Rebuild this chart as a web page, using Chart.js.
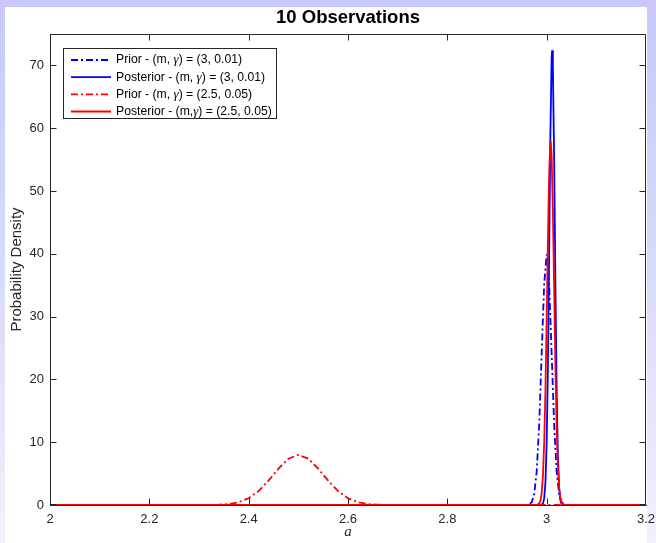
<!DOCTYPE html>
<html><head><meta charset="utf-8">
<script src="https://cdn.jsdelivr.net/npm/chart.js@4.4.0/dist/chart.umd.min.js"></script>
<style>
html,body{margin:0;padding:0;width:656px;height:543px;overflow:hidden;}
body{background:linear-gradient(to bottom,#c8c8fa 0%,#dadafb 50%,#f1f1fd 100%);position:relative;}
#panel{position:absolute;left:5px;top:7px;width:642px;height:536px;background:#fff;}
#c{position:absolute;left:0;top:0;}
</style></head><body>
<div id="panel"></div>
<canvas id="c" width="656" height="543"></canvas>
<script>
const chartTitle = "10 Observations";
const xAxisTitle = "a";
const yAxisTitle = "Probability Density";
const xTicks = [2, 2.2, 2.4, 2.6, 2.8, 3, 3.2];
const yTicks = [0, 10, 20, 30, 40, 50, 60, 70];
const legendPrefix = ["Prior - (m, ", "Posterior - (m, ", "Prior - (m, ", "Posterior - (m,"];
const legendSymbol = "\u03B3";
const legendSuffix = [") = (3, 0.01)", ") = (3, 0.01)", ") = (2.5, 0.05)", ") = (2.5, 0.05)"];

// Prior (m, gamma) = (3, 0.01)
const xPriorBlue = [2, 2.95, 2.96, 2.965, 2.97, 2.975, 2.98, 2.985, 2.99, 2.995, 3.0, 3.005, 3.01, 3.015, 3.02, 3.025, 3.03, 3.035, 3.04, 3.05, 3.2];
const yPriorBlue = [0, 0, 0.01, 0.09, 0.44, 1.75, 5.4, 12.95, 24.2, 35.2, 39.9, 35.2, 24.2, 12.95, 5.4, 1.75, 0.44, 0.09, 0.01, 0, 0];
// Posterior (m, gamma) = (3, 0.01)
const xPostBlue = [2, 2.985, 2.99, 2.9925, 2.995, 2.9975, 3.0, 3.0025, 3.005, 3.0075, 3.01, 3.011, 3.0125, 3.015, 3.0175, 3.02, 3.0225, 3.025, 3.0275, 3.03, 3.035, 3.2];
const yPostBlue = [0, 0, 0.05, 0.25, 1.05, 3.56, 9.8, 21.9, 39.9, 59.1, 71.2, 72.4, 69.8, 55.6, 36.0, 19.0, 8.14, 2.84, 0.8, 0.19, 0, 0];
// Prior (m, gamma) = (2.5, 0.05)
const xPriorRed = [2, 2.28, 2.3, 2.32, 2.34, 2.36, 2.38, 2.4, 2.42, 2.44, 2.46, 2.48, 2.5, 2.52, 2.54, 2.56, 2.58, 2.6, 2.62, 2.64, 2.66, 2.68, 2.7, 2.72, 3.2];
const yPriorRed = [0, 0, 0.003, 0.012, 0.048, 0.158, 0.448, 1.08, 2.22, 3.88, 5.79, 7.37, 7.98, 7.37, 5.79, 3.88, 2.22, 1.08, 0.448, 0.158, 0.048, 0.012, 0.003, 0, 0];
// Posterior (m, gamma) = (2.5, 0.05)
const xPostRed = [2, 2.98, 2.985, 2.9875, 2.99, 2.9925, 2.995, 2.9975, 3.0, 3.0025, 3.005, 3.0075, 3.008, 3.01, 3.0125, 3.015, 3.0175, 3.02, 3.0225, 3.025, 3.0275, 3.03, 3.035, 3.04, 3.2];
const yPostRed = [0, 0, 0.22, 0.7, 1.93, 4.65, 9.83, 18.2, 29.6, 42.2, 52.8, 57.8, 58.0, 55.6, 46.9, 34.7, 22.5, 12.8, 6.38, 2.79, 1.07, 0.36, 0.03, 0, 0];

const toPts = (xs, ys) => xs.map((x, i) => ({x: x, y: ys[i]}));
const BLUE = '#0000ff', RED = '#ff0000', AX = '#262626';
const DASHDOT = [7, 3, 2, 3];

const datasets = [
  {label: 'prior1', data: toPts(xPriorBlue, yPriorBlue), borderColor: BLUE, borderDash: DASHDOT, order: 4},
  {label: 'post1', data: toPts(xPostBlue, yPostBlue), borderColor: BLUE, borderDash: [], order: 3},
  {label: 'prior2', data: toPts(xPriorRed, yPriorRed), borderColor: RED, borderDash: DASHDOT, order: 2},
  {label: 'post2', data: toPts(xPostRed, yPostRed), borderColor: RED, borderDash: [], order: 1}
];
datasets.forEach(d => { d.borderWidth = 1.8; d.pointRadius = 0; d.tension = 0; d.fill = false; });

const SANS = '"Liberation Sans", Arial, Helvetica, sans-serif';

const decor = {
  id: 'decor',
  afterDatasetsDraw(chart) {
    const ctx = chart.ctx, a = chart.chartArea;
    const xs = chart.scales.x, ys = chart.scales.y;
    const L = Math.round(a.left) + 0.5, R = Math.round(a.right) - 0.5;
    const T = Math.round(a.top) + 0.5, B = Math.round(a.bottom) - 0.5;
    ctx.save();
    ctx.strokeStyle = AX; ctx.lineWidth = 1; ctx.setLineDash([]);
    ctx.beginPath();
    ctx.moveTo(L, T); ctx.lineTo(R, T); ctx.lineTo(R, B);
    ctx.moveTo(L, T); ctx.lineTo(L, B);
    ctx.stroke();
    const tl = 6;
    const clamp = (v, lo, hi) => Math.min(Math.max(v, lo), hi);
    ctx.beginPath();
    xTicks.forEach(v => {
      const px = clamp(Math.round(xs.getPixelForValue(v)) + 0.5, L, R);
      ctx.moveTo(px, B); ctx.lineTo(px, B - tl);
      ctx.moveTo(px, T); ctx.lineTo(px, T + tl);
    });
    yTicks.forEach(v => {
      const py = clamp(Math.round(ys.getPixelForValue(v)) + 0.5, T, B);
      ctx.moveTo(L, py); ctx.lineTo(L + tl, py);
      ctx.moveTo(R, py); ctx.lineTo(R - tl, py);
    });
    ctx.stroke();

    // legend
    const bx = 63.5, by = 48.5, bw = 213, bh = 70;
    ctx.fillStyle = '#fff';
    ctx.fillRect(bx, by, bw, bh);
    ctx.strokeStyle = AX;
    ctx.strokeRect(bx, by, bw, bh);
    const rowY = [60, 77.2, 94.4, 111.5];
    datasets.forEach((d, i) => {
      const y = rowY[i];
      ctx.strokeStyle = d.borderColor; ctx.lineWidth = 1.8;
      ctx.setLineDash(d.borderDash);
      ctx.beginPath(); ctx.moveTo(71, y); ctx.lineTo(111, y); ctx.stroke();
      ctx.setLineDash([]);
      ctx.fillStyle = '#000';
      ctx.textBaseline = 'middle'; ctx.textAlign = 'left';
      let x = 116;
      ctx.font = '12.2px ' + SANS;
      ctx.fillText(legendPrefix[i], x, y);
      x += ctx.measureText(legendPrefix[i]).width;
      ctx.font = 'italic 13px "Liberation Serif", "DejaVu Serif", serif';
      ctx.fillText(legendSymbol, x, y);
      x += ctx.measureText(legendSymbol).width;
      ctx.font = '12.2px ' + SANS;
      ctx.fillText(legendSuffix[i], x, y);
    });

    // title
    const cx = (a.left + a.right) / 2;
    ctx.fillStyle = '#000';
    ctx.font = 'bold 18.5px ' + SANS;
    ctx.textAlign = 'center'; ctx.textBaseline = 'middle';
    ctx.fillText(chartTitle, cx, 18);
    // x label
    ctx.fillStyle = AX;
    ctx.font = 'italic 15px "Liberation Serif", "DejaVu Serif", serif';
    ctx.fillText(xAxisTitle, cx, 532);
    // y label
    ctx.save();
    ctx.translate(17, (a.top + a.bottom) / 2);
    ctx.rotate(-Math.PI / 2);
    ctx.font = '15px ' + SANS;
    ctx.fillText(yAxisTitle, 0, 0);
    ctx.restore();
    ctx.restore();
  }
};

new Chart(document.getElementById('c'), {
  type: 'line',
  data: {datasets: datasets},
  options: {
    responsive: false,
    animation: false,
    devicePixelRatio: 1,
    layout: {padding: {left: 0, top: 34, right: 10, bottom: 0}},
    plugins: {legend: {display: false}, title: {display: false}, tooltip: {enabled: false}},
    scales: {
      x: {
        type: 'linear', min: 2, max: 3.2,
        afterBuildTicks: s => { s.ticks = xTicks.map(v => ({value: v})); },
        afterFit: s => { s.height = 38; s.paddingLeft = 0; s.paddingRight = 0; },
        grid: {display: false, drawTicks: false, tickLength: 0},
        border: {display: true, color: AX, width: 1},
        ticks: {color: AX, font: {family: SANS, size: 13}, padding: 7, maxRotation: 0, autoSkip: false,
                callback: v => String(v)}
      },
      y: {
        type: 'linear', min: 0, max: 75,
        afterBuildTicks: s => { s.ticks = yTicks.map(v => ({value: v})); },
        afterFit: s => { s.width = 50; s.paddingTop = 0; s.paddingBottom = 0; },
        grid: {display: false, drawTicks: false, tickLength: 0},
        border: {display: true, color: AX, width: 1},
        ticks: {color: AX, font: {family: SANS, size: 13}, padding: 6, autoSkip: false,
                callback: v => String(v)}
      }
    }
  },
  plugins: [decor]
});
</script>
</body></html>
